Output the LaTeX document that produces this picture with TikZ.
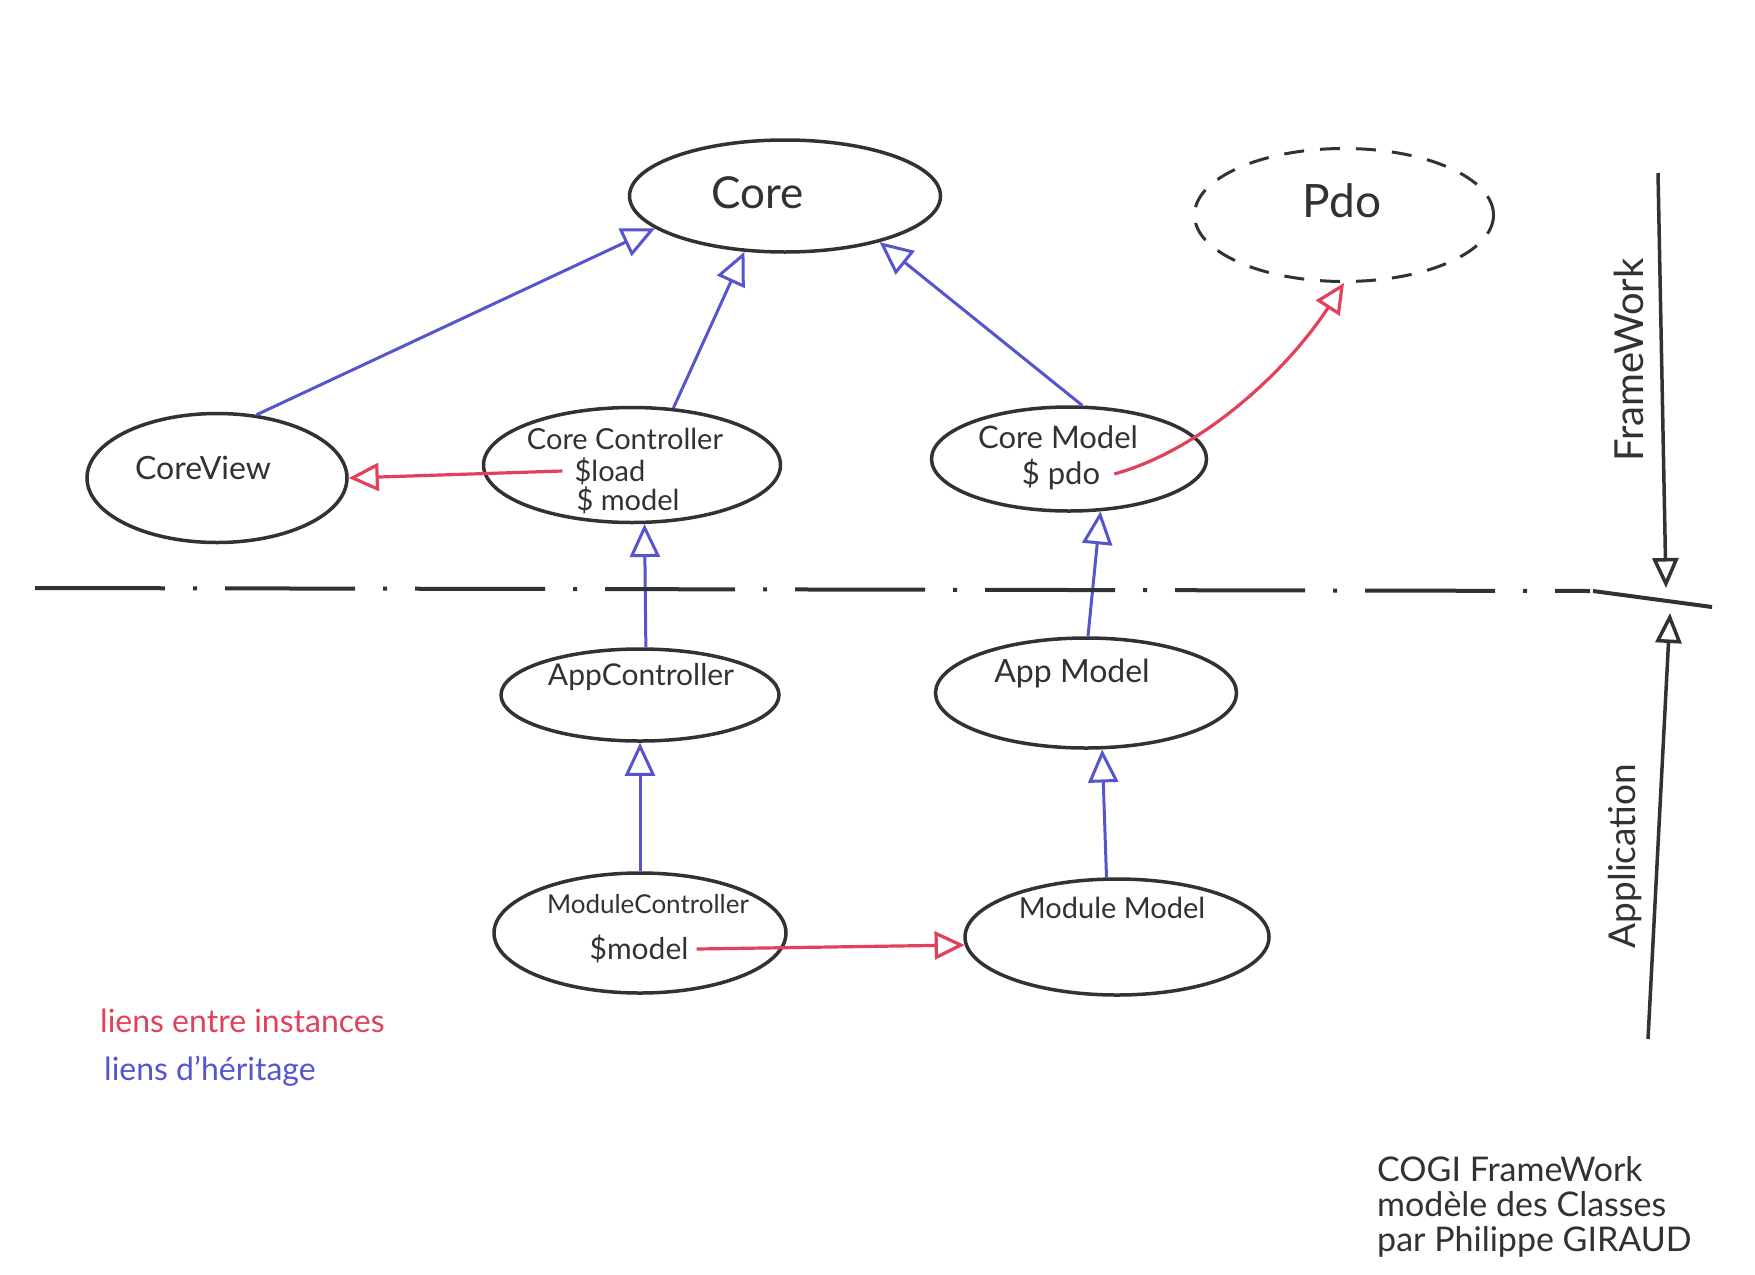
\documentclass[tikz,border=0pt]{standalone}
\usepackage{fontspec}
\setmainfont{Lato}
\usetikzlibrary{shapes.geometric,arrows.meta}
\definecolor{ink}{RGB}{50,50,50}
\definecolor{inhblue}{RGB}{85,85,205}
\definecolor{instred}{RGB}{225,65,90}
\begin{document}
\begin{tikzpicture}[x=1pt,y=-1pt,
  cls/.style={draw=ink, line width=3.5pt, ellipse, inner sep=0pt},
  lbl/.style={text=ink, inner sep=0pt, font=\fontsize{#1}{#1}\selectfont},
  inh/.style={draw=inhblue, line width=3pt, -{Triangle[open,length=33pt,width=30pt]}},
  inst/.style={draw=instred, line width=3.2pt, -{Triangle[open,length=30pt,width=28pt]}},
  side/.style={draw=ink, line width=3.5pt, -{Triangle[open,length=30pt,width=26pt]}},
]
\useasboundingbox[fill=white] (0,0) rectangle (1755,1274);

% classes
\node[cls, minimum width=311pt, minimum height=112pt] (core) at (785,196) {};
\node[cls, dash pattern=on 20pt off 16pt, line width=3pt, minimum width=299pt, minimum height=133pt] (pdo) at (1344,215) {};
\node[cls, minimum width=260pt, minimum height=129pt] (cv) at (217,478) {};
\node[cls, minimum width=297pt, minimum height=115pt] (cc) at (632,465) {};
\node[cls, minimum width=275pt, minimum height=104pt] (cm) at (1069,459) {};
\node[cls, minimum width=278pt, minimum height=92pt] (ac) at (640,695) {};
\node[cls, minimum width=301pt, minimum height=110pt] (am) at (1086,693) {};
\node[cls, minimum width=292pt, minimum height=120pt] (mc) at (640,933) {};
\node[cls, minimum width=304pt, minimum height=116pt] (mm) at (1117,937) {};

% class texts
\node[lbl=44] (coret) at (758,193) {Core};
\node[lbl=46] (pdot) at (1342,201) {Pdo};
\node[lbl=32] (cvt) at (203,468) {CoreView};
\node[lbl=29] (cct) at (625,439) {Core Controller};
\node[lbl=29] (ccload) at (610,471) {\$load};
\node[lbl=29] (ccmodel) at (628,500) {\$ model};
\node[lbl=31] (cmt) at (1058,437) {Core Model};
\node[lbl=31] (cmpdo) at (1061,474) {\$ pdo};
\node[lbl=30] (act) at (641,677) {AppController};
\node[lbl=32] (amt) at (1072,673) {App Model};
\node[lbl=26] (mct) at (648,904) {ModuleController};
\node[lbl=30] (mcmodel) at (639,949) {\$model};
\node[lbl=29] (mmt) at (1112,908) {Module Model};

% inheritance links
\draw[inh] (cv.58) -- (core.194);
\draw[inh] (cc.54) -- (core.234);
\draw[inh] (cm.76) -- (core.334);
\draw[inh] (ac.83) -- (cc.282);
\draw[inh] (am.88) -- (cm.301);
\draw[inh] (mc.90) -- (ac.270);
\draw[inh] (mm.100) -- (am.286);

% instance links
\draw[inst] ([xshift=-12pt]ccload.west) -- (cv.east);
\draw[inst] ([xshift=14pt]cmpdo.east) .. controls +(90,-25) and +(-55,85) .. (pdo.south);
\draw[inst] ([xshift=8pt]mcmodel.east) -- (mm.183);

% separation line
\coordinate (dl) at (35,588);
\coordinate (dr) at (1590,591);
\coordinate (dend) at (1712,607);
\draw[ink, line width=4pt, dash pattern=on 130pt off 28pt on 4pt off 28pt] (dl) -- (dr);
\draw[ink, line width=4pt] ([xshift=3pt]dr) -- (dend);

% side arrows
\coordinate (fwtop) at (1658,173);
\coordinate (fwtip) at (1666,588);
\coordinate (apbot) at (1648,1039);
\coordinate (aptip) at (1670,613);
\draw[side] (fwtop) -- (fwtip);
\draw[side] (apbot) -- (aptip);
\node[lbl=40, rotate=90] (fwt) at (1629,360) {FrameWork};
\node[lbl=37, rotate=90] (apt) at (1625,856) {Application};

% legend
\node[lbl=32, text=instred, anchor=west] (leg1) at (100,1021) {liens entre instances};
\node[lbl=32, text=inhblue, anchor=west] (leg2) at (104,1071) {liens d'héritage};

% signature
\node[lbl=34, anchor=north west, align=left, font=\fontsize{34}{35}\selectfont] (sig) at (1377,1156) {COGI FrameWork\\modèle des Classes\\par Philippe GIRAUD};
\end{tikzpicture}
\end{document}
